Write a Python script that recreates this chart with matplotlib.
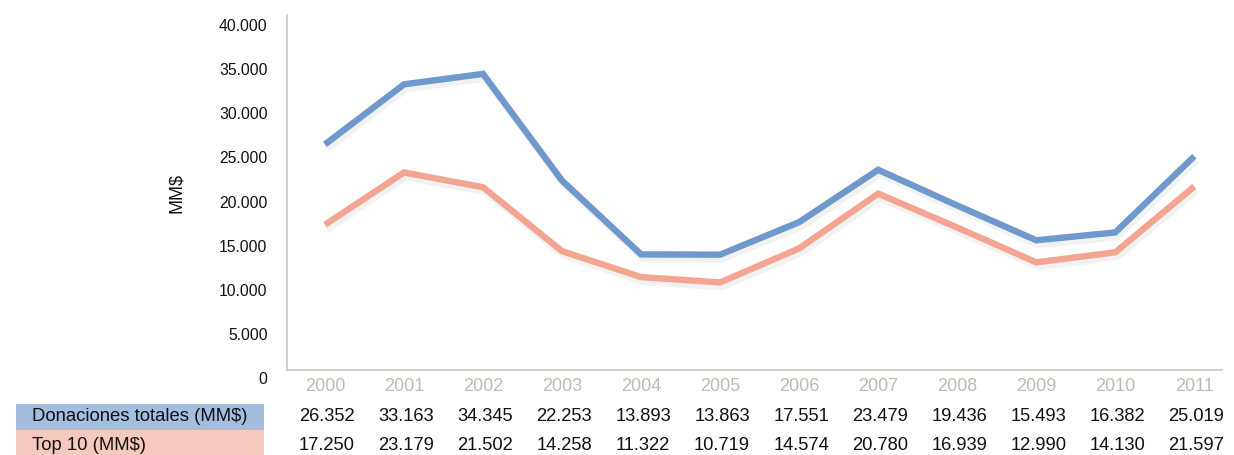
import matplotlib
matplotlib.use("Agg")
import matplotlib.pyplot as plt
import matplotlib.patheffects as pe

plt.rcParams['font.family'] = ['Liberation Sans', 'DejaVu Sans']

years = ['2000', '2001', '2002', '2003', '2004', '2005', '2006', '2007', '2008', '2009', '2010', '2011']
donaciones = [26352, 33163, 34345, 22253, 13893, 13863, 17551, 23479, 19436, 15493, 16382, 25019]
top10 = [17250, 23179, 21502, 14258, 11322, 10719, 14574, 20780, 16939, 12990, 14130, 21597]
row_labels = ['Donaciones totales (MM$)', 'Top 10 (MM$)']
yticks = [0, 5000, 10000, 15000, 20000, 25000, 30000, 35000, 40000]
ytick_labels = ['0', '5.000', '10.000', '15.000', '20.000', '25.000', '30.000', '35.000', '40.000']

W, H = 1234, 456
fig = plt.figure(figsize=(W / 100, H / 100), dpi=100)
ax_l, ax_r, ax_t, ax_b = 287, 1222, 16, 378
ax = fig.add_axes([ax_l / W, 1 - ax_b / H, (ax_r - ax_l) / W, (ax_b - ax_t) / H])

blue = '#6f98cc'
salmon = '#f4a591'
x = list(range(len(years)))
shadow = [pe.SimpleLineShadow(offset=(1.5, -3.5), shadow_color='#000000', alpha=0.05), pe.Normal()]
ax.plot(x, donaciones, color=blue, lw=4.6, solid_capstyle='butt', solid_joinstyle='miter', path_effects=shadow)
ax.plot(x, top10, color=salmon, lw=4.6, solid_capstyle='butt', solid_joinstyle='miter', path_effects=shadow)

ytop = 41020
spine_y = 793
for s in ['top', 'right']:
    ax.spines[s].set_visible(False)
for s in ['left', 'bottom']:
    ax.spines[s].set_color('#cfc8c0')
    ax.spines[s].set_linewidth(1.2)
ax.spines['bottom'].set_position(('data', spine_y))
ax.spines['left'].set_bounds(spine_y, ytop)

ax.set_xlim(-0.48, 11.35)
ax.set_ylim(0, ytop)
ax.set_yticks(yticks)
ax.set_yticklabels(ytick_labels, fontsize=11.3, color='#111111')
ax.set_xticks(x)
ax.set_xticklabels(years, fontsize=13, color='#c2bab2')
ax.tick_params(axis='both', length=0)
ax.tick_params(axis='y', pad=14)
ax.tick_params(axis='x', pad=5)
fig.text(177 / W, 1 - 193 / H, 'MM$', fontsize=13, rotation=90, ha='center', va='center', color='#111111')

# data table
rows = [donaciones, top10]
row_y = [417, 446]
row_colors = ['#a3bedf', '#f6c9bd']
row_tops = [405, 431]
row_h = [26, 25]
for i, (vals, lab) in enumerate(zip(rows, row_labels)):
    fig.patches.append(plt.Rectangle((16 / W, 1 - (row_tops[i] + row_h[i]) / H), (264 - 16) / W, row_h[i] / H,
                                     transform=fig.transFigure, facecolor=row_colors[i], edgecolor='none'))
    fig.text(32 / W, 1 - row_y[i] / H, lab, fontsize=13.3, va='center', ha='left', color='#111111')
    for j, v in enumerate(vals):
        s = f"{v/1000:.3f}"
        xp = ax.transData.transform((j, 0))[0] + 2
        fig.text(xp / W, 1 - row_y[i] / H, s, fontsize=13.2, va='center', ha='center', color='#111111')

fig.savefig('out.png', dpi=100, facecolor='white')
